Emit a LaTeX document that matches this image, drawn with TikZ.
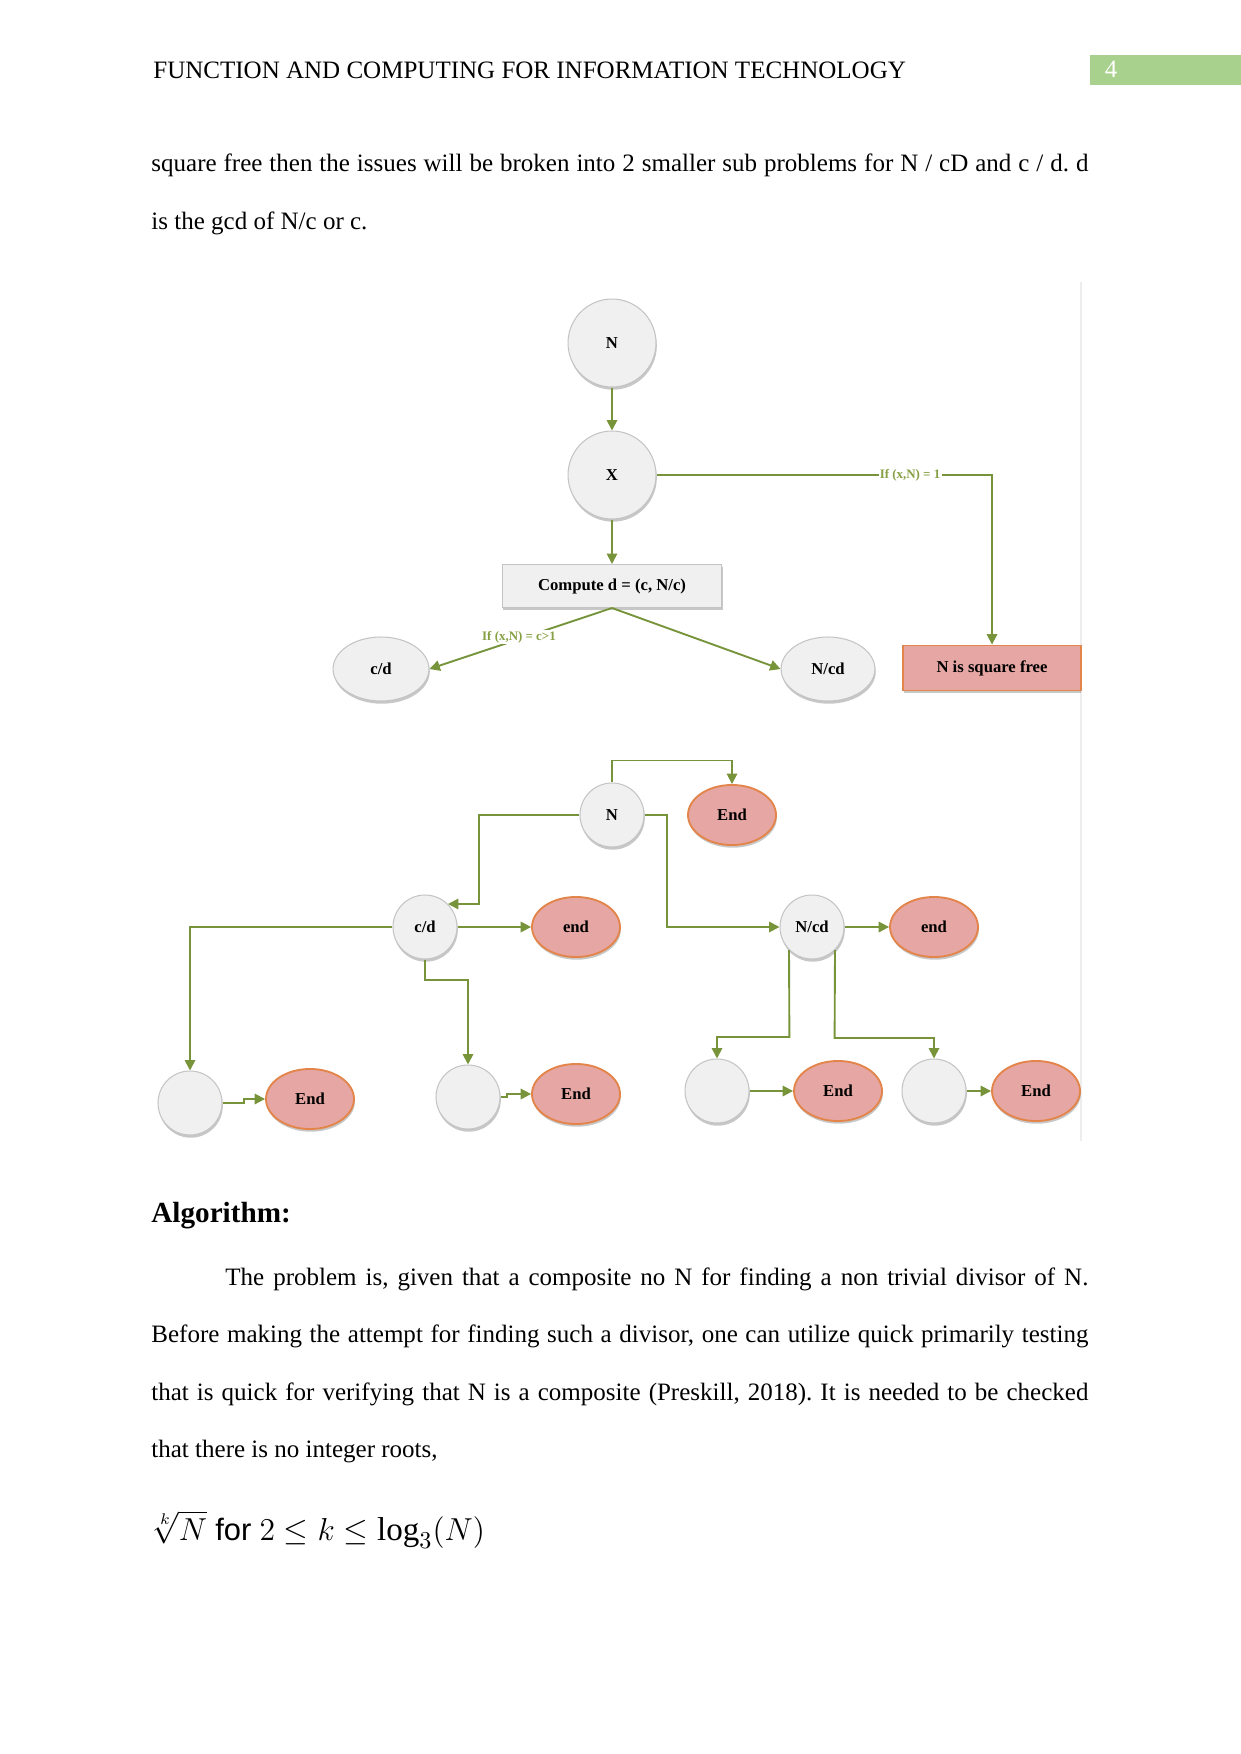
\documentclass[tikz,border=0pt]{standalone}
\usepackage{fontspec}
\usepackage{graphicx}
\setmainfont{Liberation Serif}
\newfontfamily\arialfont{Liberation Sans}
\usetikzlibrary{shapes.geometric,arrows.meta,shadows}
\definecolor{nodegray}{HTML}{F0F0F0}
\definecolor{bordergray}{HTML}{C4C4C4}
\definecolor{endpink}{HTML}{E6A7A4}
\definecolor{endorange}{HTML}{E3854A}
\definecolor{linkolive}{HTML}{77943A}
\definecolor{labolive}{HTML}{86A043}
\definecolor{pagegreen}{HTML}{A9D18E}
\tikzset{
  bodytext/.style={anchor=base west, inner sep=0pt, font=\fontsize{12}{14}\selectfont},
  nodefont/.style={font=\bfseries\fontsize{8}{9}\selectfont},
  softshadow/.style={drop shadow={shadow xshift=0.4pt, shadow yshift=-1.3pt, opacity=0.22, fill=black}},
  graynode/.style={ellipse, fill=nodegray, draw=bordergray, line width=0.5pt, inner sep=0pt, softshadow, nodefont},
  endnode/.style={ellipse, fill=endpink, draw=endorange, line width=0.9pt, inner sep=0pt, softshadow, nodefont,
                  minimum width=42.2pt, minimum height=28.8pt},
  bigcirc/.style={graynode, minimum width=42.2pt, minimum height=42.2pt},
  smallcirc/.style={graynode, minimum width=30.7pt, minimum height=30.7pt},
  link/.style={draw=linkolive, line width=0.9pt, -{Triangle[length=5pt,width=5pt]}},
  lab/.style={fill=white, inner sep=0.6pt, text=labolive, font=\bfseries\fontsize{6.2}{7}\selectfont}
}
\begin{document}
\frenchspacing
\begin{tikzpicture}[x=0.4797pt,y=-0.4797pt]
\fill[white] (0,0) rectangle (1241,1754);
\useasboundingbox (0,0) rectangle (1241,1754);

% header
\node[bodytext] (head) at (153,79) {FUNCTION AND COMPUTING FOR INFORMATION TECHNOLOGY};
\fill[pagegreen] (1090,55) rectangle (1241,85);
\node[anchor=base, inner sep=0pt, text=white, font=\fontsize{12}{14}\selectfont] (pnum) at (1111,78) {4};

% intro text
\node[bodytext] (t1) at (151,172) {\makebox[449.5pt][s]{square free then the issues will be broken into 2 smaller sub problems for N / cD and c / d. d}};
\node[bodytext] (t2) at (151,229) {is the gcd of N/c or c.};

% faint image edge
\draw[black!7, line width=1pt] (1081,282) -- (1081,1141);

% ---------- top diagram ----------
\node[bigcirc] (N1) at (612,343) {N};
\node[bigcirc] (X1) at (612,475) {X};
\node[rectangle, fill=nodegray, draw=bordergray, line width=0.5pt, softshadow, nodefont,
      minimum width=105.5pt, minimum height=20.6pt, inner sep=0pt] (comp) at (612,586) {Compute d = (c, N/c)};
\node[graynode, minimum width=46pt, minimum height=30.7pt] (cd1) at (381,669) {c/d};
\node[graynode, minimum width=45pt, minimum height=30.7pt] (ncd1) at (828,669) {N/cd};
\node[rectangle, fill=endpink, draw=endorange, line width=0.9pt, softshadow, nodefont,
      minimum width=85pt, minimum height=21.6pt, inner sep=0pt] (sq) at (992,668) {N is square free};

\draw[link] (N1) -- (X1);
\draw[link] (X1) -- (comp);
\draw[link] (X1.east) -| (sq.north);
\node[lab] (l1) at (910,475) {If (x,N) = 1};
\draw[link] (comp.south) -- (cd1.east);
\draw[link] (comp.south) -- (ncd1.west);
\node[lab] (l2) at (519,637) {If (x,N) = c>1};

% ---------- bottom diagram ----------
\node[smallcirc] (N2) at (612,815) {N};
\node[endnode] (E0) at (732,815) {End};
\node[smallcirc] (cd2) at (425,927) {c/d};
\node[endnode] (e1) at (576,927) {end};
\node[smallcirc] (ncd2) at (812,927) {N/cd};
\node[endnode] (e2) at (934,927) {end};
\node[smallcirc] (s1) at (190,1103) {};
\node[endnode] (E1) at (310,1099) {End};
\node[smallcirc] (s2) at (468,1097) {};
\node[endnode] (E2) at (576,1094) {End};
\node[smallcirc] (s3) at (717,1091) {};
\node[endnode] (E3) at (838,1091) {End};
\node[smallcirc] (s4) at (934,1091) {};
\node[endnode] (E4) at (1036,1091) {End};

\draw[link] (N2.north) -- ++(0,-22) -| (E0.north);
\draw[link] (N2.west) -- (479,815) |- (cd2.45);
\draw[link] (N2.east) -- (667,815) |- (ncd2.west);
\draw[link] (cd2) -- (e1);
\draw[link] (ncd2) -- (e2);
\draw[link] (cd2.west) -| (s1.north);
\draw[link] (cd2.south) -- (425,980) -| (s2.north);
\draw[link] (ncd2.225) -- (789.4,1037) -| (s3.north);
\draw[link] (ncd2.315) -- (834.6,1038) -| (s4.north);
\draw[link] (s1.east) -- (244,1103) -- (244,1099) -- (E1.west);
\draw[link] (s2.east) -- (507,1097) -- (507,1094) -- (E2.west);
\draw[link] (s3) -- (E3);
\draw[link] (s4) -- (E4);

% ---------- algorithm text ----------
\node[anchor=base west, inner sep=0pt, font=\bfseries\fontsize{14}{16}\selectfont] (alg) at (151,1222) {Algorithm:};
\node[bodytext] (p1) at (225,1285) {\makebox[414pt][s]{The problem is, given that a composite no N for finding a non trivial divisor of N.}};
\node[bodytext] (p2) at (151,1342) {\makebox[449.5pt][s]{Before making the attempt for finding such a divisor, one can utilize quick primarily testing}};
\node[bodytext] (p3) at (151,1400) {\makebox[449.5pt][s]{that is quick for verifying that N is a composite (Preskill, 2018). It is needed to be checked}};
\node[bodytext] (p4) at (151,1457) {that there is no integer roots,};

\node[anchor=base west, inner sep=0pt, font=\fontsize{15}{18}\selectfont] (form) at (151,1540)
  {\resizebox{160pt}{!}{$\sqrt[k]{N}$ {\arialfont\fontsize{14}{17}\selectfont for} $2 \le k \le \log_3(N)$}};
\end{tikzpicture}
\end{document}
